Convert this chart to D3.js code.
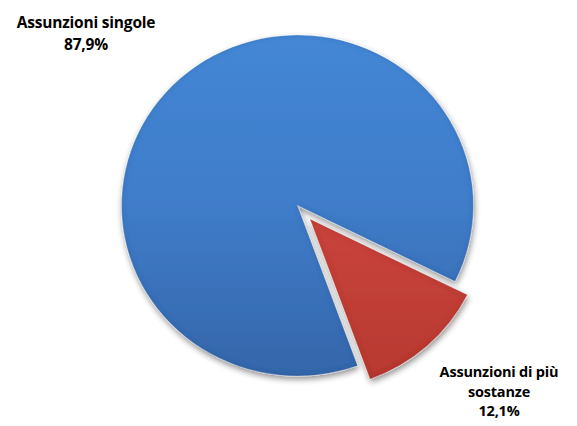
<!DOCTYPE html>
<html>
<head>
<meta charset="utf-8">
<script src="https://cdn.jsdelivr.net/npm/d3@7"></script>
<style>
  html, body { margin: 0; padding: 0; background: #ffffff; }
  svg { display: block; }
  text { font-family: "Open Sans", "Liberation Sans", sans-serif; font-weight: 700; fill: #000; }
</style>
</head>
<body>
<div id="chart"></div>
<script>
const categories = ["Assunzioni singole", "Assunzioni di più sostanze"];
const values = [87.9, 12.1];
const valueLabels = ["87,9%", "12,1%"];
const labelLines = [["Assunzioni singole", "87,9%"], ["Assunzioni di più", "sostanze", "12,1%"]];

const W = 577, H = 426;
const cx = 297.5, cy = 205.5, R = 170.5, sx = 1.032;
const startDeg = 160;
const explode = [0, 18];
const fills = [
  { top: "#4487d5", mid: "#3f7cc9", bot: "#3566aa" },
  { top: "#d24c44", mid: "#c9443c", bot: "#b63830" }
];

const svg = d3.select("#chart").append("svg").attr("width", W).attr("height", H);
const defs = svg.append("defs");

fills.forEach((f, i) => {
  const g = defs.append("linearGradient").attr("id", "grad" + i)
    .attr("gradientUnits", "userSpaceOnUse")
    .attr("x1", 0).attr("y1", -R).attr("x2", 0).attr("y2", R);
  g.append("stop").attr("offset", "0%").attr("stop-color", f.top);
  g.append("stop").attr("offset", "50%").attr("stop-color", f.mid);
  g.append("stop").attr("offset", "100%").attr("stop-color", f.bot);
});

const shadow = defs.append("filter").attr("id", "shadow")
  .attr("x", "-10%").attr("y", "-10%").attr("width", "125%").attr("height", "125%");
shadow.append("feGaussianBlur").attr("in", "SourceAlpha").attr("stdDeviation", 3).attr("result", "blur");
shadow.append("feOffset").attr("in", "blur").attr("dx", 1).attr("dy", 3).attr("result", "off");
shadow.append("feComponentTransfer").attr("in", "off").attr("result", "soft")
  .append("feFuncA").attr("type", "linear").attr("slope", 0.45);
const merge = shadow.append("feMerge");
merge.append("feMergeNode").attr("in", "soft");
merge.append("feMergeNode").attr("in", "SourceGraphic");

// inner bevel: darken edges
const bevel = defs.append("filter").attr("id", "bevel");
bevel.append("feGaussianBlur").attr("in", "SourceAlpha").attr("stdDeviation", 2.5).attr("result", "b");
bevel.append("feComposite").attr("in", "SourceAlpha").attr("in2", "b").attr("operator", "arithmetic")
  .attr("k1", 0).attr("k2", 1).attr("k3", -1).attr("k4", 0).attr("result", "edge");
bevel.append("feFlood").attr("flood-color", "#000").attr("flood-opacity", 0.3).attr("result", "c");
bevel.append("feComposite").attr("in", "c").attr("in2", "edge").attr("operator", "in").attr("result", "shade");
const bm = bevel.append("feMerge");
bm.append("feMergeNode").attr("in", "SourceGraphic");
bm.append("feMergeNode").attr("in", "shade");

const data = categories.map((c, i) => ({ name: c, value: values[i] }));
const pie = d3.pie().sort(null).value(d => d.value)
  .startAngle(startDeg * Math.PI / 180)
  .endAngle((startDeg + 360) * Math.PI / 180);
const arcs = pie(data);
const arc = d3.arc().innerRadius(0).outerRadius(R);

const root = svg.append("g").attr("transform", `translate(${cx},${cy}) scale(${sx},1)`);

arcs.forEach((a, i) => {
  const mid = (a.startAngle + a.endAngle) / 2;
  const dx = Math.sin(mid) * explode[i], dy = -Math.cos(mid) * explode[i];
  const g = root.append("g").attr("transform", `translate(${dx},${dy})`).attr("filter", "url(#shadow)");
  g.append("path").attr("d", arc(a))
    .attr("fill", `url(#grad${i})`)
    .attr("filter", "url(#bevel)");
  g.append("path").attr("d", arc(a))
    .attr("fill", "none")
    .attr("stroke", "#ffffff").attr("stroke-opacity", 0.3).attr("stroke-width", 1);
});

// labels
const labelPos = [
  { x: 86, y: 28, dy: 22, size: 15.5 },
  { x: 499, y: 377, dy: 19.5, size: 14.5 }
];
labelLines.forEach((lines, i) => {
  const t = svg.append("text").attr("text-anchor", "middle")
    .style("font-size", labelPos[i].size + "px").style("letter-spacing", "-0.2px");
  lines.forEach((ln, j) => {
    t.append("tspan").attr("x", labelPos[i].x).attr("y", labelPos[i].y + j * labelPos[i].dy).text(ln);
  });
});
</script>
</body>
</html>
